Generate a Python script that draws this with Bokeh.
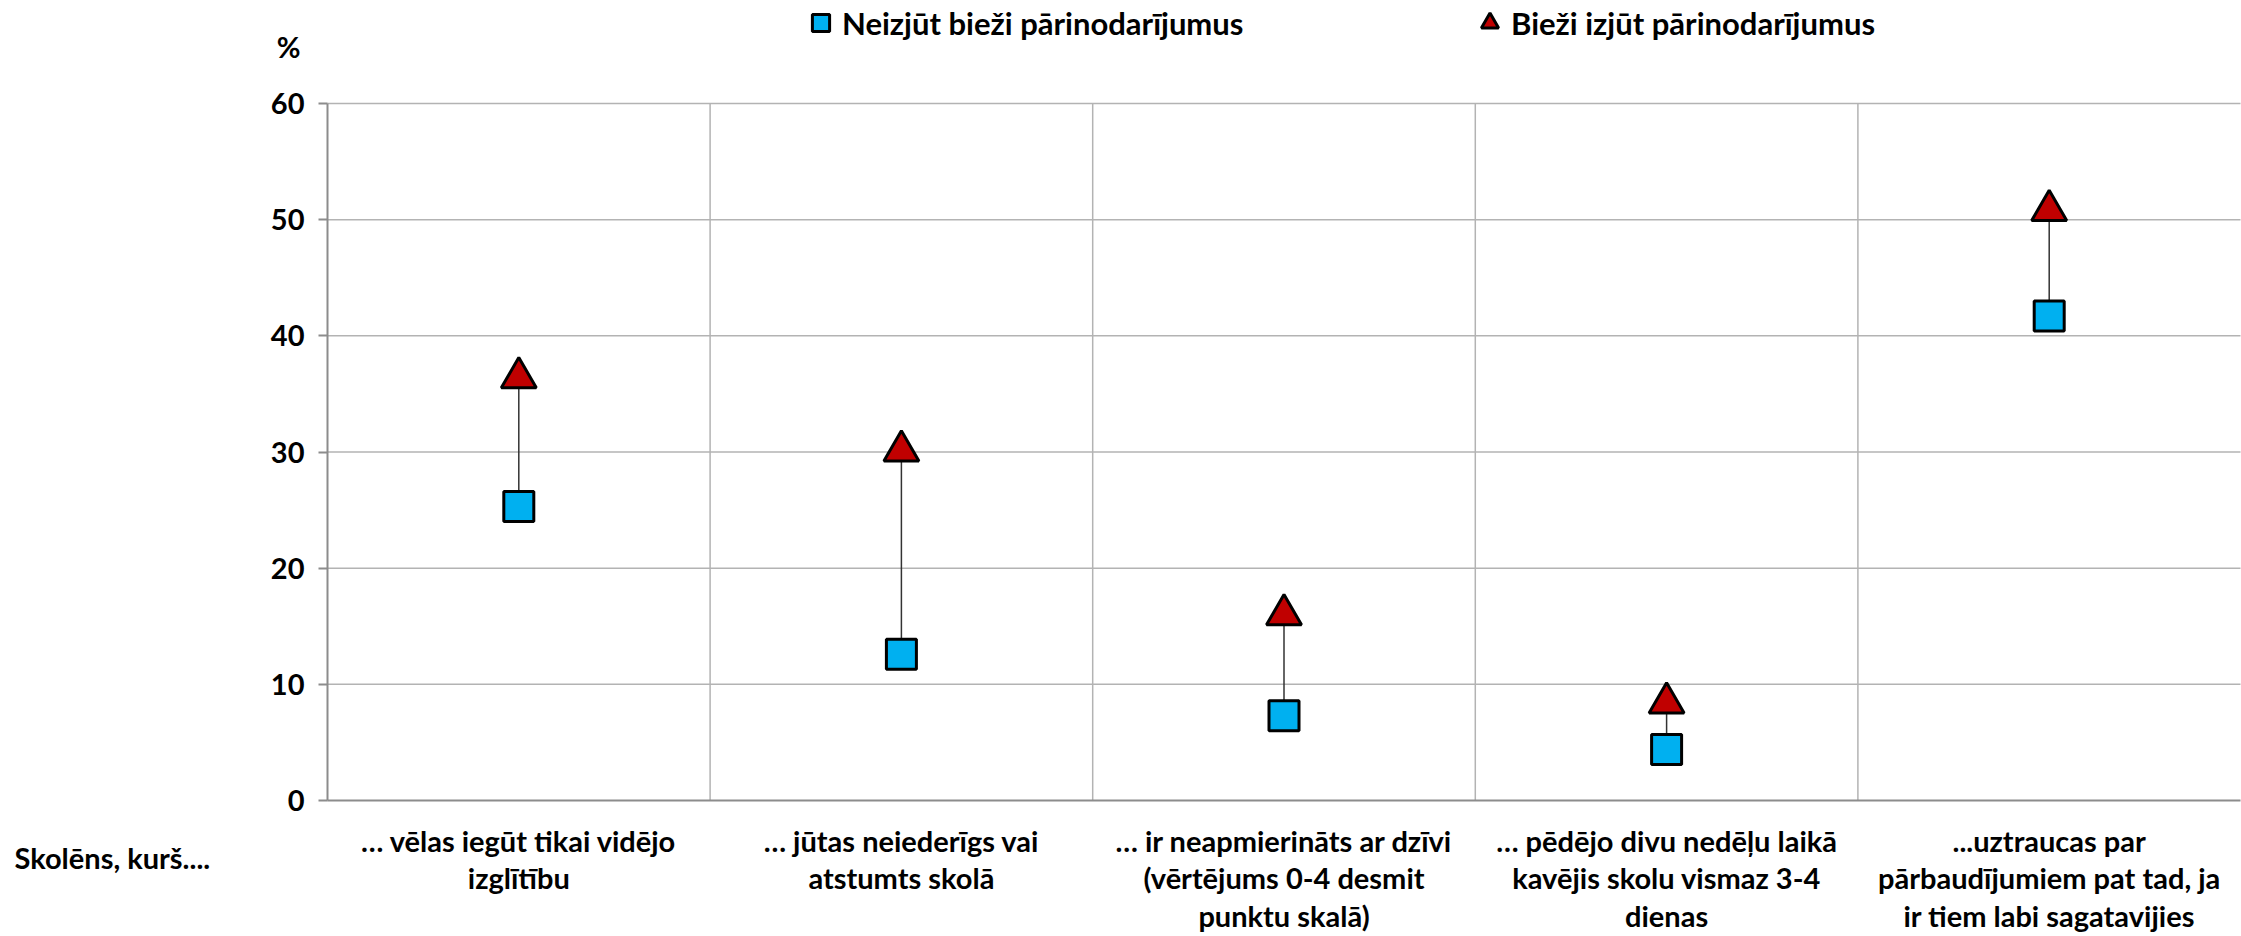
from bokeh.plotting import figure
from bokeh.models import (FixedTicker, Range1d, Legend, LegendItem, Label, ColumnDataSource)
from bokeh.embed import file_html
from bokeh.resources import INLINE

categories = [
    "… vēlas iegūt tikai vidējo\nizglītību",
    "… jūtas neiederīgs vai\natstumts skolā",
    "… ir neapmierināts ar dzīvi\n(vērtējums 0-4 desmit\npunktu skalā)",
    "… pēdējo divu nedēļu laikā\nkavējis skolu vismaz 3-4\ndienas",
    "...uztraucas par\npārbaudījumiem pat tad, ja\nir tiem labi sagatavijies",
]
not_bullied = [25.3, 12.6, 7.3, 4.4, 41.7]
bullied = [36.4, 30.1, 16.0, 8.4, 50.8]
y_ticks = [0, 10, 20, 30, 40, 50, 60]
series_names = ["Neizjūt bieži pārinodarījumus", "Bieži izjūt pārinodarījumus"]

FONT = "Lato"
W, H = 2241, 936
# plot area in page pixels
PL, PR, PT, PB = 327, 2240, 103, 800
n = len(categories)
ymax = y_ticks[-1]
xs = (PR - PL) / n          # px per category
ys = (PB - PT) / ymax       # px per unit
xpos = [i + 0.5 for i in range(n)]

p = figure(width=W, height=H, output_backend="svg", toolbar_location=None,
           x_range=Range1d(-PL / xs, n + (W - PR) / xs),
           y_range=Range1d(-(H - PB) / ys, ymax + PT / ys),
           min_border=0)
p.outline_line_color = None
p.background_fill_color = "white"
p.border_fill_color = "white"
p.grid.visible = False

# grid lines (bounded to the plot area)
hsrc = ColumnDataSource(dict(y=y_ticks[1:], x0=[0] * (len(y_ticks) - 1), x1=[n] * (len(y_ticks) - 1)))
p.segment(x0="x0", y0="y", x1="x1", y1="y", source=hsrc, line_color="#b3b3b3", line_width=1.5)
vsrc = ColumnDataSource(dict(x=list(range(1, n)), y0=[0] * (n - 1), y1=[ymax] * (n - 1)))
p.segment(x0="x", y0="y0", x1="x", y1="y1", source=vsrc, line_color="#b3b3b3", line_width=1.5)

# axes drawn at fixed locations inside the full-canvas frame
p.xaxis.fixed_location = 0
p.xaxis.bounds = (0, n)
p.xaxis.ticker = FixedTicker(ticks=xpos)
p.xaxis.major_label_overrides = {x: c for x, c in zip(xpos, categories)}
p.xaxis.major_tick_line_color = None
p.xaxis.minor_tick_line_color = None
p.xaxis.axis_line_color = "#8c8c8c"
p.xaxis.axis_line_width = 2
p.xaxis.major_label_text_font = FONT
p.xaxis.major_label_text_font_style = "bold"
p.xaxis.major_label_text_font_size = "29px"
p.xaxis.major_label_text_color = "black"
p.xaxis.major_label_text_line_height = 1.08
p.xaxis.major_label_standoff = 16

p.yaxis.fixed_location = 0
p.yaxis.bounds = (0, ymax)
p.yaxis.ticker = FixedTicker(ticks=y_ticks)
p.yaxis.minor_tick_line_color = None
p.yaxis.axis_line_color = "#8c8c8c"
p.yaxis.axis_line_width = 2
p.yaxis.major_tick_line_color = "#8c8c8c"
p.yaxis.major_tick_line_width = 2
p.yaxis.major_tick_in = 0
p.yaxis.major_tick_out = 9
p.yaxis.major_label_text_font = FONT
p.yaxis.major_label_text_font_style = "bold"
p.yaxis.major_label_text_font_size = "29px"
p.yaxis.major_label_text_color = "black"
p.yaxis.major_label_standoff = 14

src = ColumnDataSource(dict(x=xpos, lo=not_bullied, hi=bullied))
p.segment(x0="x", y0="lo", x1="x", y1="hi", source=src, line_color="#333333", line_width=1.5)
r1 = p.scatter(x="x", y="lo", source=src, marker="square", size=30,
               fill_color="#00B0F0", line_color="black", line_width=3)
r2 = p.scatter(x="x", y="hi", source=src, marker="triangle", size=35,
               fill_color="#C00000", line_color="black", line_width=3)

def make_legend(label, r, x):
    leg = Legend(items=[LegendItem(label=label, renderers=[r])],
                 location=(x, H - 44), orientation="horizontal",
                 glyph_width=43, glyph_height=43, label_standoff=-13,
                 padding=0, margin=0, border_line_color=None,
                 background_fill_alpha=0,
                 label_text_font=FONT, label_text_font_style="bold",
                 label_text_font_size="31px", label_text_color="black")
    p.add_layout(leg)

make_legend(series_names[0], r1, 799)
make_legend(series_names[1], r2, 1468)

p.add_layout(Label(x=300, y=H - 46, x_units="screen", y_units="screen", text="%",
                   text_font=FONT, text_font_style="bold", text_font_size="29px",
                   text_align="right", text_baseline="middle", text_color="black"))
p.add_layout(Label(x=14, y=H - 857, x_units="screen", y_units="screen", text="Skolēns, kurš....",
                   text_font=FONT, text_font_style="bold", text_font_size="29px",
                   text_align="left", text_baseline="middle", text_color="black"))

open("out.html", "w").write(file_html(p, INLINE))
